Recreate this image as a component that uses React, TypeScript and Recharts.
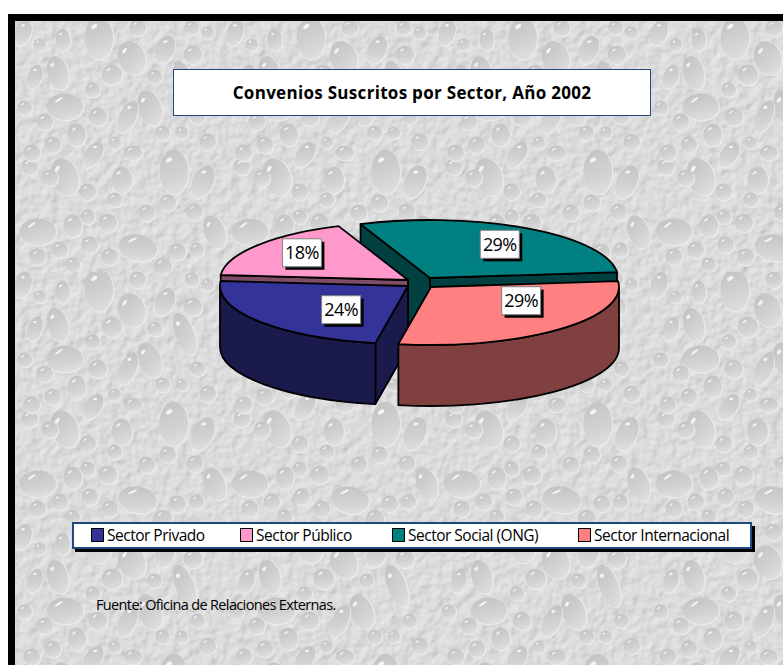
import React from "react";
import { PieChart, Pie, Legend } from "recharts";

const categories = ["Sector Privado", "Sector Público", "Sector Social (ONG)", "Sector Internacional"];
// shown rounded as 24, 18, 29, 29
const shares = [23.6, 17.6, 29.4, 29.4];
const topColors = ["#333399", "#FF99CC", "#008080", "#FF8080"];
const wallColors = ["#1A1A4D", "#804D66", "#004040", "#804040"];

const chartData = categories.map((name, i) => ({ name, value: shares[i], fill: topColors[i] }));

const WIDTH = 775;
const HEIGHT = 651;
const CX = 411;
const CY = 268;
const RADIUS = 188;
const TILT = 58 / 188;
const DEPTH = 61;

// how far each exploded slice sits from the pie centre, in pixels
const explode = [[-11, 4], [-11, -2], [11, -4], [12, 5]];
// where each percent box sits, along the slice's mid angle, and its nudge
const labelNudge = [[37, -1], [-1, -3], [1, 1], [0, -16]];
// painting order, back slices first
const layers = [[2], [1], [0, 3]];

// wallpaper droplets inside one 212x252 tile: x, y, rx, ry, rotation
const drops = [
  [50, 157, 13, 19, -20], [78, 135, 8, 14, 35], [159, 152, 14, 22, 0], [188, 162, 10, 17, 25],
  [23, 212, 18, 13, 0], [123, 228, 19, 13, 10], [200, 212, 10, 17, -20], [58, 206, 9, 11, 0],
  [84, 18, 14, 21, 0], [117, 38, 13, 17, -20], [150, 30, 9, 14, 25], [170, 62, 9, 22, -20],
  [43, 53, 10, 17, -15], [50, 87, 18, 13, 0], [135, 88, 11, 18, -20], [113, 97, 8, 17, 25],
  [8, 13, 8, 13, 20], [48, 20, 7, 11, 0], [20, 57, 7, 12, 20], [97, 55, 10, 10, 0],
  [178, 35, 9, 9, 0], [123, 8, 8, 8, 0], [15, 147, 8, 8, 0], [35, 158, 8, 8, 0],
  [17, 133, 8, 8, 0], [38, 125, 8, 8, 0], [100, 123, 6, 6, 0], [118, 133, 9, 7, 0],
  [107, 160, 10, 13, 0], [73, 172, 8, 8, 0], [100, 180, 7, 7, 0], [132, 193, 8, 8, 0],
  [153, 183, 8, 8, 0], [180, 192, 8, 8, 0], [73, 197, 7, 7, 0], [93, 203, 9, 9, 0],
  [75, 225, 8, 8, 0], [95, 237, 8, 8, 0], [45, 230, 8, 8, 0], [23, 237, 8, 8, 0],
  [163, 232, 8, 8, 0], [182, 230, 7, 7, 0], [148, 247, 9, 9, 0], [58, 245, 7, 7, 0],
  [193, 122, 8, 8, 0], [148, 113, 7, 7, 0], [62, 115, 9, 11, 0], [167, 113, 6, 6, 0],
  [177, 8, 7, 7, 0], [193, 13, 6, 6, 0], [25, 25, 6, 6, 0], [140, 57, 7, 7, 0],
  [78, 70, 7, 7, 0], [83, 97, 9, 9, 0], [30, 102, 8, 8, 0], [10, 88, 7, 7, 0], [183, 97, 7, 7, 0],
];

const rad = (a: number) => (a * Math.PI) / 180;

function rimPoint(ax: number, ay: number, a: number, drop = 0) {
  return [ax + RADIUS * Math.cos(rad(a)), ay - RADIUS * TILT * Math.sin(rad(a)) + drop];
}

function arc(ax: number, ay: number, from: number, to: number, drop = 0) {
  const [x, y] = rimPoint(ax, ay, to, drop);
  const large = Math.abs(from - to) > 180 ? 1 : 0;
  return `A${RADIUS} ${RADIUS * TILT} 0 ${large} ${from > to ? 1 : 0} ${x} ${y}`;
}

function SliceShape(props: any, allowed: number[]) {
  const index = categories.indexOf(props.name);
  if (!allowed.includes(index)) return <g />;
  const { cx, cy, startAngle, endAngle } = props;
  const ax = cx + explode[index][0];
  const ay = cy + explode[index][1];
  const wall = wallColors[index];
  const top = topColors[index];
  const line = { stroke: "#000", strokeWidth: 1.8, strokeLinejoin: "round" as const };

  const radialFace = (a: number) => {
    const [x, y] = rimPoint(ax, ay, a);
    return <path d={`M${ax} ${ay}L${x} ${y}L${x} ${y + DEPTH}L${ax} ${ay + DEPTH}Z`} fill={wall} {...line} />;
  };

  // the rim wall only shows on the front half of the ellipse
  let rim = null;
  const candidates = [
    [Math.min(startAngle, 360), Math.max(endAngle, 180)],
    [Math.min(startAngle, 0), Math.max(endAngle, -180)],
  ];
  for (const [from, to] of candidates) {
    if (from > to) {
      const [fx, fy] = rimPoint(ax, ay, from);
      const [tx, ty] = rimPoint(ax, ay, to);
      rim = (
        <path
          d={`M${fx} ${fy}${arc(ax, ay, from, to)}L${tx} ${ty + DEPTH}${arc(ax, ay, to, from, DEPTH)}Z`}
          fill={wall}
          {...line}
        />
      );
    }
  }

  const [sx, sy] = rimPoint(ax, ay, startAngle);
  return (
    <g>
      {Math.sin(rad(startAngle + 90)) < 0 && radialFace(startAngle)}
      {Math.sin(rad(endAngle - 90)) < 0 && radialFace(endAngle)}
      {rim}
      <path d={`M${ax} ${ay}L${sx} ${sy}${arc(ax, ay, startAngle, endAngle)}Z`} fill={top} {...line} />
    </g>
  );
}

function PercentBox(props: any) {
  const index = categories.indexOf(props.name);
  const mid = rad(props.midAngle);
  const x = props.cx + explode[index][0] + RADIUS * 0.7 * Math.cos(mid) + labelNudge[index][0];
  const y = props.cy + explode[index][1] - RADIUS * TILT * 0.7 * Math.sin(mid) + labelNudge[index][1];
  return (
    <g>
      <rect x={x - 19} y={y - 14} width={39} height={28} fill="#000" transform="translate(3 3)" />
      <rect x={x - 19} y={y - 14} width={39} height={28} fill="#fff" stroke="#808080" strokeWidth={1} />
      <text x={x + 0.5} y={y + 6.5} textAnchor="middle" fontFamily="Open Sans" fontSize={18} letterSpacing={-0.6} fill="#000">
        {Math.round(props.percent * 100)}%
      </text>
    </g>
  );
}

function LegendBox() {
  const offsets = [19, 168, 320, 506];
  return (
    <div style={{ position: "relative", width: 680, height: 26 }}>
      <div style={{ position: "absolute", left: 3, top: 4, width: 680, height: 26, background: "#000" }} />
      <div style={{ position: "absolute", left: 0, top: 0, width: 676, height: 23, background: "#fff", border: "2px solid #1F497D", boxSizing: "content-box" }} />
      {categories.map((c, i) => (
        <div key={c} style={{ position: "absolute", left: offsets[i], top: 6, display: "flex", alignItems: "center", height: 14 }}>
          <span style={{ width: 11, height: 12, background: topColors[i], border: "1px solid #000", marginRight: 3 }} />
          <span style={{ fontFamily: "Open Sans", fontSize: 15.5, letterSpacing: -0.5, color: "#000", whiteSpace: "nowrap" }}>{c}</span>
        </div>
      ))}
    </div>
  );
}

function Wallpaper() {
  return (
    <svg width={WIDTH - 7} height={HEIGHT - 7} style={{ position: "absolute", left: 7, top: 7 }}>
      <defs>
        <linearGradient id="dropFill" x1="0" y1="0" x2="0.3" y2="1">
          <stop offset="0" stopColor="#c2c2c2" />
          <stop offset="0.7" stopColor="#d2d2d2" />
          <stop offset="1" stopColor="#dcdcdc" />
        </linearGradient>
        <filter id="soften" x="0" y="0" width="100%" height="100%">
          <feGaussianBlur stdDeviation="0.7" />
        </filter>
        <filter id="speckle" x="0" y="0" width="100%" height="100%">
          <feTurbulence type="fractalNoise" baseFrequency="0.1" numOctaves={2} seed={4} />
          <feDiffuseLighting surfaceScale={1.4} diffuseConstant={1} lightingColor="#e8e8e8">
            <feDistantLight azimuth={225} elevation={62} />
          </feDiffuseLighting>
        </filter>
        <pattern id="droplets" width={212} height={252} patternUnits="userSpaceOnUse" patternTransform="translate(0 -1)">
          {drops.map(([x, y, rx, ry, rot], i) => (
            <g key={i} transform={`translate(${x} ${y}) rotate(${rot})`}>
              <ellipse cx={0.6} cy={0.8} rx={rx + 0.8} ry={ry + 0.8} fill="#e9e9e9" />
              <ellipse cx={-0.4} cy={-0.5} rx={rx} ry={ry} fill="#b8b8b8" opacity={0.6} />
              <ellipse rx={rx} ry={ry} fill="url(#dropFill)" />
              <ellipse
                cx={-rx * 0.35}
                cy={-ry * 0.55}
                rx={Math.max(0.8, rx * 0.25)}
                ry={Math.max(0.8, ry * 0.09)}
                fill="#f4f4f4"
                transform={`rotate(-35 ${-rx * 0.35} ${-ry * 0.55})`}
              />
            </g>
          ))}
        </pattern>
      </defs>
      <rect width="100%" height="100%" filter="url(#speckle)" />
      <rect width="100%" height="100%" fill="url(#droplets)" filter="url(#soften)" />
    </svg>
  );
}

export default function App() {
  return (
    <div style={{ position: "fixed", left: 8, top: 14, width: WIDTH, height: HEIGHT, background: "#000", overflow: "hidden" }}>
      <Wallpaper />
      <div style={{ position: "absolute", left: 165, top: 55, width: 476, height: 45, background: "#fff", border: "1px solid #1F497D", display: "flex", alignItems: "center", justifyContent: "center", fontFamily: "Open Sans", fontWeight: 700, fontSize: 17, letterSpacing: 0.3, color: "#000" }}>
        Convenios Suscritos por Sector, Año 2002
      </div>
      <div style={{ position: "absolute", left: 88, top: 581, fontFamily: "Open Sans", fontSize: 14.5, letterSpacing: -0.64, color: "#000" }}>
        Fuente: Oficina de Relaciones Externas.
      </div>
      <div style={{ position: "absolute", left: 0, top: 0 }}>
        <PieChart width={WIDTH} height={HEIGHT} margin={{ top: 0, right: 0, bottom: 0, left: 0 }}>
          {layers.map((allowed, i) => (
            <Pie
              key={i}
              data={chartData}
              dataKey="value"
              nameKey="name"
              cx={CX}
              cy={CY}
              outerRadius={RADIUS}
              startAngle={260}
              endAngle={-100}
              legendType="none"
              isAnimationActive={false}
              shape={(p: any) => SliceShape(p, allowed)}
              label={i === layers.length - 1 ? PercentBox : false}
              labelLine={false}
            />
          ))}
          <Legend
            content={LegendBox}
            layout="horizontal"
            wrapperStyle={{ position: "absolute", left: 64, top: 508, width: 684, bottom: "auto" }}
          />
        </PieChart>
      </div>
    </div>
  );
}
